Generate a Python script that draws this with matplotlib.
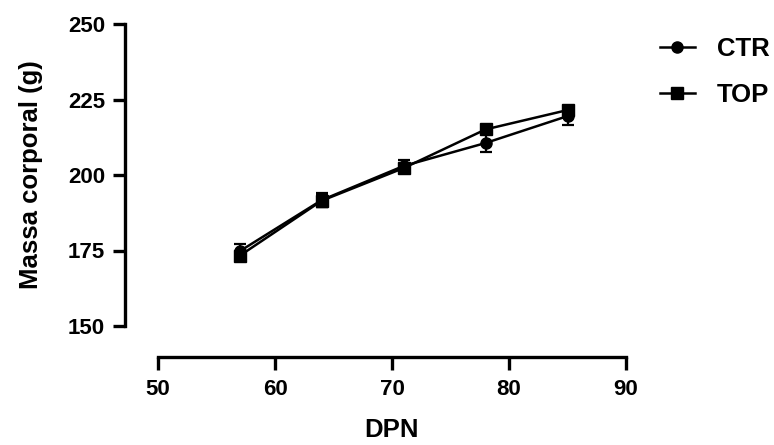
import matplotlib.pyplot as plt
from matplotlib.lines import Line2D

plt.rcParams['font.family'] = ['Liberation Sans', 'DejaVu Sans']
plt.rcParams['font.weight'] = 'bold'

dpn = [57, 64, 71, 78, 85]
ctr_mean = [174.8, 191.7, 203.0, 210.6, 219.5]
ctr_err = [2.5, 2.3, 2.0, 3.0, 2.9]
top_mean = [173.3, 191.5, 202.3, 215.1, 221.5]
top_err = [1.5, 2.0, 1.5, 1.5, 1.5]

fig = plt.figure(figsize=(7.74, 4.45), dpi=100)
ax = fig.add_axes([158/774, 1 - 326/445, 468/774, 302/445])

ax.errorbar(dpn, ctr_mean, yerr=ctr_err, color='black', marker='o', ms=8,
            lw=1.8, capsize=4.5, elinewidth=1.6, capthick=1.6)
ax.errorbar(dpn, top_mean, yerr=top_err, color='black', marker='s', ms=8,
            lw=1.8, capsize=4.5, elinewidth=1.6, capthick=1.6)

ax.set_xlim(50, 90)
ax.set_ylim(150, 250)
ax.set_xticks([50, 60, 70, 80, 90])
ax.set_yticks([150, 175, 200, 225, 250])

for s in ['top', 'right']:
    ax.spines[s].set_visible(False)
ax.spines['left'].set_position(('outward', 24))
ax.spines['bottom'].set_position(('outward', 22))
for s in ['left', 'bottom']:
    ax.spines[s].set_linewidth(2.4)
ax.tick_params(width=2.4, length=9, labelsize=16)
ax.tick_params(axis='x', pad=7)
ax.tick_params(axis='y', pad=5)
for lab in ax.get_xticklabels() + ax.get_yticklabels():
    lab.set_fontweight('bold')

ax.set_xlabel('DPN', fontsize=18.5, fontweight='bold', labelpad=13)
ax.set_ylabel('Massa corporal (g)', fontsize=18.5, fontweight='bold', labelpad=18)

handles = [Line2D([], [], color='black', marker='o', ms=8, lw=1.8),
           Line2D([], [], color='black', marker='s', ms=8, lw=1.8)]
ax.legend(handles, ['CTR', 'TOP'], loc='upper left', bbox_to_anchor=(1.051, 0.99),
          frameon=False, fontsize=18.5, handlelength=1.35, handletextpad=0.85,
          labelspacing=0.85, borderaxespad=0)

fig.savefig('out.png', dpi=100)
